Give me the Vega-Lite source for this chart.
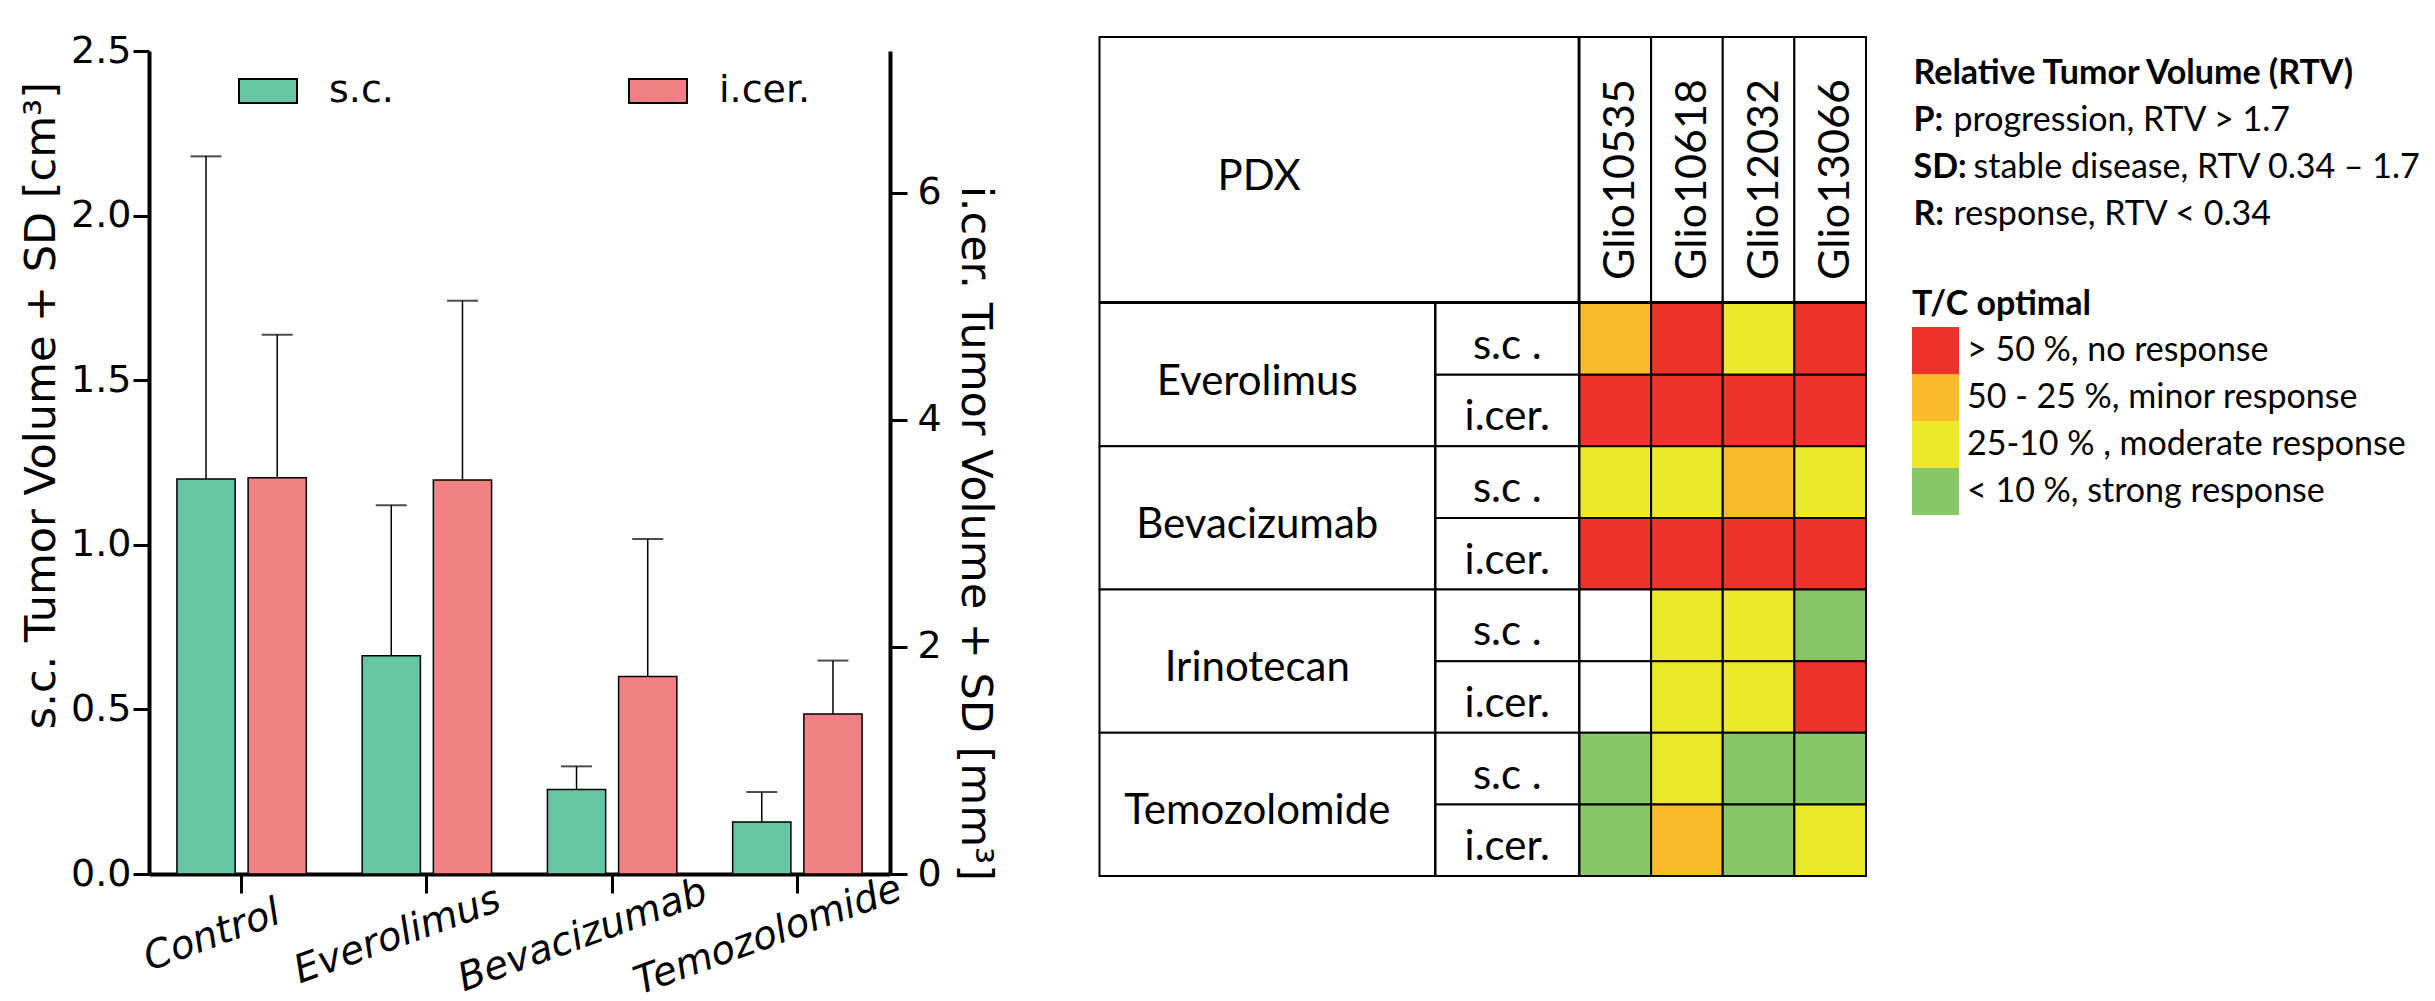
{
  "$schema": "https://vega.github.io/schema/vega-lite/v6.json",
  "background": "white",
  "padding": {"left": 19, "top": 32, "right": 5, "bottom": 0},
  "config": {
    "view": {"stroke": null},
    "axis": {"grid": false, "domainColor": "black", "tickColor": "black", "labelColor": "black", "titleColor": "black"},
    "legend": {"padding": 0}
  },
  "datasets": {
    "bars": [
      {"treatment": "Control", "route": "s.c.", "mean": 1.2, "upper": 2.18},
      {"treatment": "Control", "route": "i.cer.", "mean": 3.49, "upper": 4.75},
      {"treatment": "Everolimus", "route": "s.c.", "mean": 0.663, "upper": 1.12},
      {"treatment": "Everolimus", "route": "i.cer.", "mean": 3.47, "upper": 5.05},
      {"treatment": "Bevacizumab", "route": "s.c.", "mean": 0.257, "upper": 0.327},
      {"treatment": "Bevacizumab", "route": "i.cer.", "mean": 1.74, "upper": 2.95},
      {"treatment": "Temozolomide", "route": "s.c.", "mean": 0.158, "upper": 0.249},
      {"treatment": "Temozolomide", "route": "i.cer.", "mean": 1.41, "upper": 1.88}
    ],
    "pdx": [{"label": "PDX"}],
    "glio": [{"glio": "Glio10535"}, {"glio": "Glio10618"}, {"glio": "Glio12032"}, {"glio": "Glio13066"}],
    "drugs": [{"drug": "Everolimus"}, {"drug": "Bevacizumab"}, {"drug": "Irinotecan"}, {"drug": "Temozolomide"}],
    "routes": [
      {"row": "Everolimus s.c.", "label": "s.c ."},
      {"row": "Everolimus i.cer.", "label": "i.cer."},
      {"row": "Bevacizumab s.c.", "label": "s.c ."},
      {"row": "Bevacizumab i.cer.", "label": "i.cer."},
      {"row": "Irinotecan s.c.", "label": "s.c ."},
      {"row": "Irinotecan i.cer.", "label": "i.cer."},
      {"row": "Temozolomide s.c.", "label": "s.c ."},
      {"row": "Temozolomide i.cer.", "label": "i.cer."}
    ],
    "cells": [
      {"row": "Everolimus s.c.", "glio": "Glio10535", "tc": "50 - 25 %, minor response"},
      {"row": "Everolimus s.c.", "glio": "Glio10618", "tc": "> 50 %, no response"},
      {"row": "Everolimus s.c.", "glio": "Glio12032", "tc": "25-10 % , moderate response"},
      {"row": "Everolimus s.c.", "glio": "Glio13066", "tc": "> 50 %, no response"},
      {"row": "Everolimus i.cer.", "glio": "Glio10535", "tc": "> 50 %, no response"},
      {"row": "Everolimus i.cer.", "glio": "Glio10618", "tc": "> 50 %, no response"},
      {"row": "Everolimus i.cer.", "glio": "Glio12032", "tc": "> 50 %, no response"},
      {"row": "Everolimus i.cer.", "glio": "Glio13066", "tc": "> 50 %, no response"},
      {"row": "Bevacizumab s.c.", "glio": "Glio10535", "tc": "25-10 % , moderate response"},
      {"row": "Bevacizumab s.c.", "glio": "Glio10618", "tc": "25-10 % , moderate response"},
      {"row": "Bevacizumab s.c.", "glio": "Glio12032", "tc": "50 - 25 %, minor response"},
      {"row": "Bevacizumab s.c.", "glio": "Glio13066", "tc": "25-10 % , moderate response"},
      {"row": "Bevacizumab i.cer.", "glio": "Glio10535", "tc": "> 50 %, no response"},
      {"row": "Bevacizumab i.cer.", "glio": "Glio10618", "tc": "> 50 %, no response"},
      {"row": "Bevacizumab i.cer.", "glio": "Glio12032", "tc": "> 50 %, no response"},
      {"row": "Bevacizumab i.cer.", "glio": "Glio13066", "tc": "> 50 %, no response"},
      {"row": "Irinotecan s.c.", "glio": "Glio10535", "tc": null},
      {"row": "Irinotecan s.c.", "glio": "Glio10618", "tc": "25-10 % , moderate response"},
      {"row": "Irinotecan s.c.", "glio": "Glio12032", "tc": "25-10 % , moderate response"},
      {"row": "Irinotecan s.c.", "glio": "Glio13066", "tc": "< 10 %, strong response"},
      {"row": "Irinotecan i.cer.", "glio": "Glio10535", "tc": null},
      {"row": "Irinotecan i.cer.", "glio": "Glio10618", "tc": "25-10 % , moderate response"},
      {"row": "Irinotecan i.cer.", "glio": "Glio12032", "tc": "25-10 % , moderate response"},
      {"row": "Irinotecan i.cer.", "glio": "Glio13066", "tc": "> 50 %, no response"},
      {"row": "Temozolomide s.c.", "glio": "Glio10535", "tc": "< 10 %, strong response"},
      {"row": "Temozolomide s.c.", "glio": "Glio10618", "tc": "25-10 % , moderate response"},
      {"row": "Temozolomide s.c.", "glio": "Glio12032", "tc": "< 10 %, strong response"},
      {"row": "Temozolomide s.c.", "glio": "Glio13066", "tc": "< 10 %, strong response"},
      {"row": "Temozolomide i.cer.", "glio": "Glio10535", "tc": "< 10 %, strong response"},
      {"row": "Temozolomide i.cer.", "glio": "Glio10618", "tc": "50 - 25 %, minor response"},
      {"row": "Temozolomide i.cer.", "glio": "Glio12032", "tc": "< 10 %, strong response"},
      {"row": "Temozolomide i.cer.", "glio": "Glio13066", "tc": "25-10 % , moderate response"}
    ],
    "rtv": [
      {"line": "title", "bold": "Relative Tumor Volume (RTV)", "rest": ""},
      {"line": "P", "bold": "P:", "rest": "progression, RTV > 1.7"},
      {"line": "SD", "bold": "SD:", "rest": "stable disease, RTV 0.34 – 1.7"},
      {"line": "R", "bold": "R:", "rest": "response, RTV < 0.34"}
    ]
  },
  "spacing": 103.5,
  "resolve": {"legend": {"fill": "independent"}},
  "hconcat": [
    {
      "spacing": -6,
      "resolve": {"legend": {"fill": "independent"}},
      "vconcat": [
        {"width": 741, "height": 1, "data": {"values": []}, "mark": "point"},
        {
          "width": 741,
          "height": 823,
          "data": {"name": "bars"},
          "encoding": {
            "x": {
              "field": "treatment", "type": "nominal",
              "sort": ["Control", "Everolimus", "Bevacizumab", "Temozolomide"],
              "scale": {"paddingInner": 0, "paddingOuter": 0},
              "axis": {"title": null, "labelAngle": -20, "labelAlign": "center", "labelBaseline": "top", "labelOffset": -36, "labelPadding": 24, "labelFont": "DejaVu Sans", "labelFontSize": 39, "labelFontStyle": "italic", "labelOverlap": false, "labelLimit": 400, "tickSize": 19, "tickWidth": 3, "domainWidth": 4}
            },
            "xOffset": {"field": "route", "type": "nominal", "scale": {"domain": ["s.c.", "i.cer."], "paddingInner": 0.182, "paddingOuter": 0.392}}
          },
          "layer": [
            {
              "transform": [{"filter": "datum.route === 's.c.'"}],
              "encoding": {
                "y": {"field": "mean", "type": "quantitative", "scale": {"domain": [0, 2.5], "nice": false},
                  "axis": {"title": "s.c. Tumor Volume + SD [cm³]", "values": [0, 0.5, 1, 1.5, 2, 2.5], "format": ".1f", "labelFont": "DejaVu Sans", "labelFontSize": 38, "labelPadding": 2, "labelOverlap": false, "tickSize": 16, "tickWidth": 3, "domainWidth": 4, "titleFont": "DejaVu Sans", "titleFontSize": 43, "titleFontWeight": "normal", "titleX": -95, "titleY": 354, "titleAngle": 270, "titleBaseline": "alphabetic", "titleAlign": "center"}}
              },
              "layer": [
                {"mark": {"type": "bar", "stroke": "black", "strokeWidth": 1.5},
                 "encoding": {"fill": {"field": "route", "type": "nominal", "scale": {"domain": ["s.c.", "i.cer."], "range": ["#66C5A3", "#F28183"]},
                   "legend": {"title": null, "orient": "none", "legendX": 89, "legendY": 10, "direction": "horizontal", "symbolType": "M-1,-0.414H1V0.414H-1Z", "symbolSize": 3364, "symbolStrokeColor": "black", "symbolStrokeWidth": 2, "symbolOpacity": 1, "labelFont": "DejaVu Sans", "labelFontSize": 38, "labelColor": "black", "labelOffset": 31, "columnPadding": 231, "labelLimit": 300}}}},
                {"mark": {"type": "rule", "color": "black", "strokeWidth": 1.5}, "encoding": {"y2": {"field": "upper"}}},
                {"mark": {"type": "tick", "orient": "horizontal", "color": "black", "size": 31, "thickness": 2},
                 "encoding": {"y": {"field": "upper", "type": "quantitative", "scale": {"domain": [0, 2.5], "nice": false},
                   "axis": {"title": "s.c. Tumor Volume + SD [cm³]", "values": [0, 0.5, 1, 1.5, 2, 2.5], "format": ".1f", "labelFont": "DejaVu Sans", "labelFontSize": 38, "labelPadding": 2, "labelOverlap": false, "tickSize": 16, "tickWidth": 3, "domainWidth": 4, "titleFont": "DejaVu Sans", "titleFontSize": 43, "titleFontWeight": "normal", "titleX": -95, "titleY": 354, "titleAngle": 270, "titleBaseline": "alphabetic", "titleAlign": "center"}}}}
              ]
            },
            {
              "transform": [{"filter": "datum.route === 'i.cer.'"}],
              "encoding": {
                "y": {"field": "mean", "type": "quantitative", "scale": {"domain": [0, 7.25], "nice": false},
                  "axis": {"orient": "right", "title": "i.cer. Tumor Volume + SD [mm³]", "values": [0, 2, 4, 6], "format": "d", "labelFont": "DejaVu Sans", "labelFontSize": 38, "labelPadding": 10, "labelOverlap": false, "tickSize": 17, "tickWidth": 3, "domainWidth": 4, "titleFont": "DejaVu Sans", "titleFontSize": 43, "titleFontWeight": "normal", "titleX": 71, "titleY": 482, "titleAngle": 90, "titleBaseline": "alphabetic", "titleAlign": "center"}}
              },
              "layer": [
                {"mark": {"type": "bar", "stroke": "black", "strokeWidth": 1.5},
                 "encoding": {"fill": {"field": "route", "type": "nominal", "scale": {"domain": ["s.c.", "i.cer."], "range": ["#66C5A3", "#F28183"]},
                   "legend": {"title": null, "orient": "none", "legendX": 89, "legendY": 10, "direction": "horizontal", "symbolType": "M-1,-0.414H1V0.414H-1Z", "symbolSize": 3364, "symbolStrokeColor": "black", "symbolStrokeWidth": 2, "symbolOpacity": 1, "labelFont": "DejaVu Sans", "labelFontSize": 38, "labelColor": "black", "labelOffset": 31, "columnPadding": 231, "labelLimit": 300}}}},
                {"mark": {"type": "rule", "color": "black", "strokeWidth": 1.5}, "encoding": {"y2": {"field": "upper"}}},
                {"mark": {"type": "tick", "orient": "horizontal", "color": "black", "size": 31, "thickness": 2},
                 "encoding": {"y": {"field": "upper", "type": "quantitative", "scale": {"domain": [0, 7.25], "nice": false},
                   "axis": {"orient": "right", "title": "i.cer. Tumor Volume + SD [mm³]", "values": [0, 2, 4, 6], "format": "d", "labelFont": "DejaVu Sans", "labelFontSize": 38, "labelPadding": 10, "labelOverlap": false, "tickSize": 17, "tickWidth": 3, "domainWidth": 4, "titleFont": "DejaVu Sans", "titleFontSize": 43, "titleFontWeight": "normal", "titleX": 71, "titleY": 482, "titleAngle": 90, "titleBaseline": "alphabetic", "titleAlign": "center"}}}}
              ]
            }
          ],
          "resolve": {"scale": {"y": "independent"}}
        }
      ]
    },
    {
      "spacing": 46,
      "hconcat": [
        {
          "spacing": -2,
          "vconcat": [
            {
              "spacing": 0,
              "bounds": "flush",
              "hconcat": [
                {
                  "width": 479.1, "height": 265,
                  "view": {"stroke": "black", "strokeWidth": 2, "fill": "white"},
                  "data": {"name": "pdx"},
                  "mark": {"type": "text", "font": "Lato", "fontSize": 42, "baseline": "alphabetic", "dx": -80, "dy": 20, "color": "black"},
                  "encoding": {"text": {"field": "label"}}
                },
                {
                  "width": 286.5, "height": 265,
                  "data": {"name": "glio"},
                  "encoding": {"x": {"field": "glio", "type": "nominal", "sort": null, "scale": {"paddingInner": 0, "paddingOuter": 0}, "axis": null}},
                  "layer": [
                    {"mark": {"type": "rect", "fill": "white", "stroke": "black", "strokeWidth": 2}},
                    {"mark": {"type": "text", "angle": 270, "font": "Lato", "fontSize": 43, "baseline": "middle", "dx": -10, "dy": 6, "color": "black"},
                     "encoding": {"text": {"field": "glio"}}}
                  ]
                }
              ]
            },
            {
              "spacing": 0,
              "bounds": "flush",
              "hconcat": [
                {
                  "width": 335.5, "height": 573,
                  "data": {"name": "drugs"},
                  "encoding": {"y": {"field": "drug", "type": "nominal", "sort": null, "scale": {"paddingInner": 0, "paddingOuter": 0}, "axis": null}},
                  "layer": [
                    {"mark": {"type": "rect", "fill": "white", "stroke": "black", "strokeWidth": 2}},
                    {"mark": {"type": "text", "font": "Lato", "fontSize": 42, "baseline": "alphabetic", "dx": -10, "dy": 20, "color": "black"},
                     "encoding": {"text": {"field": "drug"}}}
                  ]
                },
                {
                  "width": 143.6, "height": 573,
                  "data": {"name": "routes"},
                  "encoding": {"y": {"field": "row", "type": "nominal", "sort": null, "scale": {"paddingInner": 0, "paddingOuter": 0}, "axis": null}},
                  "layer": [
                    {"mark": {"type": "rect", "fill": "white", "stroke": "black", "strokeWidth": 2}},
                    {"mark": {"type": "text", "font": "Lato", "fontSize": 42, "baseline": "alphabetic", "dy": 20, "color": "black"},
                     "encoding": {"text": {"field": "label"}}}
                  ]
                },
                {
                  "width": 286.5, "height": 573,
                  "data": {"name": "cells"},
                  "mark": {"type": "rect", "stroke": "black", "strokeWidth": 2},
                  "encoding": {
                    "x": {"field": "glio", "type": "nominal", "scale": {"domain": ["Glio10535", "Glio10618", "Glio12032", "Glio13066"], "paddingInner": 0, "paddingOuter": 0}, "axis": null},
                    "y": {"field": "row", "type": "nominal", "scale": {"domain": ["Everolimus s.c.", "Everolimus i.cer.", "Bevacizumab s.c.", "Bevacizumab i.cer.", "Irinotecan s.c.", "Irinotecan i.cer.", "Temozolomide s.c.", "Temozolomide i.cer."], "paddingInner": 0, "paddingOuter": 0}, "axis": null},
                    "color": {
                      "condition": {"test": "datum.tc == null", "value": "white"},
                      "field": "tc", "type": "nominal",
                      "scale": {"domain": ["> 50 %, no response", "50 - 25 %, minor response", "25-10 % , moderate response", "< 10 %, strong response"], "range": ["#EE322C", "#FBBB2A", "#ECE82A", "#88C765"]},
                      "legend": {"title": "T/C optimal", "orient": "none", "legendX": 1763, "legendY": 251, "direction": "vertical", "symbolType": "square", "symbolSize": 2209, "symbolStrokeWidth": 0, "symbolOpacity": 1, "labelFont": "Lato", "labelFontSize": 34, "labelColor": "black", "labelOffset": 8, "labelLimit": 600, "rowPadding": 0, "titleFont": "Lato", "titleFontSize": 34, "titleFontWeight": "bold", "titleColor": "black", "titlePadding": 5}
                    }
                  }
                }
              ]
            }
          ]
        },
        {
          "width": 1, "height": 235,
          "data": {"name": "rtv"},
          "encoding": {"y": {"field": "line", "type": "ordinal", "scale": {"type": "point", "domain": ["title", "P", "SD", "R"], "padding": 1}, "axis": null}},
          "layer": [
            {"mark": {"type": "text", "align": "left", "baseline": "alphabetic", "font": "Lato", "fontSize": 34, "fontWeight": "bold", "color": "black", "x": 0},
             "encoding": {"text": {"field": "bold"}}},
            {"transform": [{"filter": "datum.line === 'P' || datum.line === 'R'"}],
             "mark": {"type": "text", "align": "left", "baseline": "alphabetic", "font": "Lato", "fontSize": 34, "color": "black", "x": 0, "dx": 40},
             "encoding": {"text": {"field": "rest"}}},
            {"transform": [{"filter": "datum.line === 'SD'"}],
             "mark": {"type": "text", "align": "left", "baseline": "alphabetic", "font": "Lato", "fontSize": 34, "color": "black", "x": 0, "dx": 60},
             "encoding": {"text": {"field": "rest"}}}
          ]
        }
      ]
    }
  ]
}
